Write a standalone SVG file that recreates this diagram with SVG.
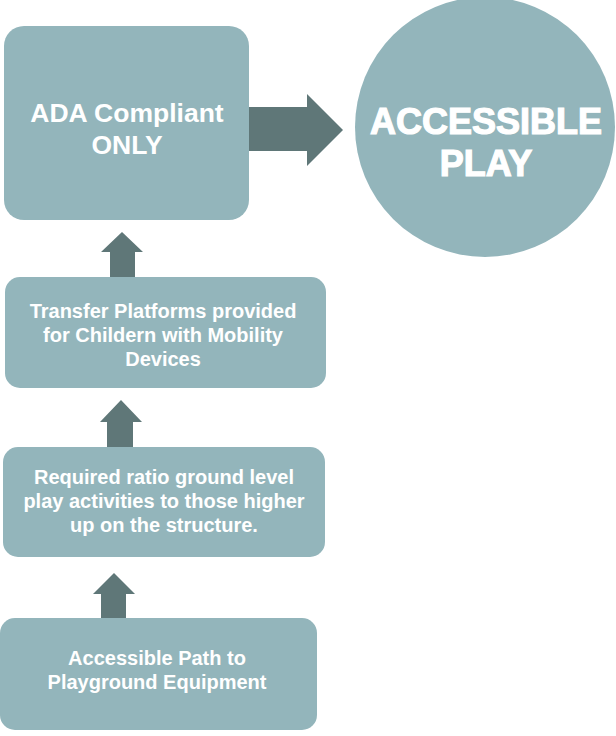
<svg xmlns="http://www.w3.org/2000/svg" width="616" height="736" viewBox="0 0 616 736">
<style>
.box{fill:#93B5BB}
.arr{fill:#5F7778}
.t{font-family:"Liberation Sans",Arial,sans-serif;font-weight:bold;fill:#FFFFFF;text-anchor:middle}
.s{font-size:20px}
.big{font-size:26.5px}
.huge{font-size:36px;stroke:#FFFFFF;stroke-width:1.2px}
</style>
<rect width="616" height="736" fill="#FFFFFF"/>
<g id="connectors">
<polygon class="arr" points="248,107 307,107 307,94 343,130 307,166 307,151 248,151"/>
<polygon class="arr" points="110,277 110,252 101,252 122,232 143,252 135,252 135,277"/>
<polygon class="arr" points="107,447 107,422 100,422 121,400 142,422 133,422 133,447"/>
<polygon class="arr" points="101,618 101,594 93,594 114,573 135,594 126,594 126,618"/>
</g>
<g id="node-ada">
<rect class="box" x="4" y="26" width="245" height="194" rx="20"/>
<text class="t big" x="127" y="122">ADA Compliant</text>
<text class="t big" x="127" y="154">ONLY</text>
</g>
<g id="node-play">
<circle class="box" cx="485" cy="127" r="130"/>
<text class="t huge" x="486" y="134">ACCESSIBLE</text>
<text class="t huge" x="486" y="176">PLAY</text>
</g>
<g id="node-transfer">
<rect class="box" x="5" y="277" width="321" height="111" rx="15"/>
<text class="t s" x="163" y="318">Transfer Platforms provided</text>
<text class="t s" x="163" y="342">for Childern with Mobility</text>
<text class="t s" x="163" y="366">Devices</text>
</g>
<g id="node-ratio">
<rect class="box" x="3" y="447" width="322" height="110" rx="15"/>
<text class="t s" x="164" y="484">Required ratio ground level</text>
<text class="t s" x="164" y="508">play activities to those higher</text>
<text class="t s" x="164" y="532">up on the structure.</text>
</g>
<g id="node-path">
<rect class="box" x="0" y="618" width="317" height="112" rx="15"/>
<text class="t s" x="157" y="665">Accessible Path to</text>
<text class="t s" x="157" y="689">Playground Equipment</text>
</g>
</svg>
